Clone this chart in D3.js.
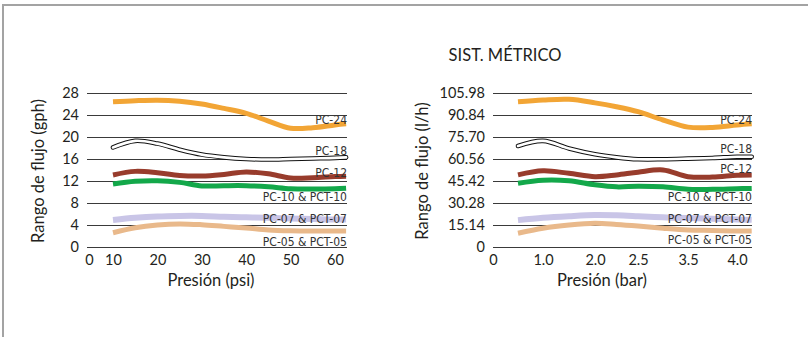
<!DOCTYPE html>
<html>
<head>
<meta charset="utf-8">
<script src="https://d3js.org/d3.v7.min.js"></script>
<style>
body { margin: 0; background: #fff; }
text { font-family: Lato, "Open Sans", sans-serif; fill: #231f20; }
.lbl { font-family: "Liberation Sans Narrow", "DejaVu Sans Condensed", sans-serif; font-size: 12px; fill: #333; }
</style>
</head>
<body>
<svg id="chart" width="808" height="337"></svg>
<script>
// series names, colours
var names = ["PC-24", "PC-18", "PC-12", "PC-10 & PCT-10", "PC-07 & PCT-07", "PC-05 & PCT-05"];
var colors = ["#f2a535", "black", "#983c2c", "#13a84a", "#c9c5e7", "#e9b98b"];

// left chart: psi vs gph
var psi = [10, 15, 20, 25, 30, 35, 40, 45, 50, 55, 60, 62.5];
var gph24 = [26.4, 26.6, 26.7, 26.5, 26.0, 25.2, 24.3, 22.9, 21.6, 21.7, 22.2, 22.4];
var gph18 = [18.1, 19.3, 18.8, 17.7, 16.8, 16.3, 16.0, 15.9, 16.0, 16.1, 16.2, 16.3];
var gph12 = [13.1, 13.75, 13.5, 13.0, 12.9, 13.2, 13.65, 13.3, 12.55, 12.6, 12.8, 12.85];
var gph10 = [11.45, 11.95, 12.05, 11.75, 11.1, 11.15, 11.15, 10.95, 10.6, 10.55, 10.6, 10.7];
var gph07 = [4.9, 5.3, 5.55, 5.65, 5.65, 5.5, 5.4, 5.3, 5.2, 5.1, 5.0, 5.0];
var gph05 = [2.6, 3.5, 4.0, 4.2, 4.05, 3.75, 3.45, 3.1, 2.95, 2.9, 2.9, 2.9];
var psiTicks = [0, 10, 20, 30, 40, 50, 60];
var gphTicks = [0, 4, 8, 12, 16, 20, 24, 28];
var gphLabelAt = [22.45, 16.7, 12.8, 8.3, 4.4, 0.2];

// right chart: bar vs l/h
var bar = [0.5, 1.0, 1.5, 2.0, 2.25, 2.5, 3.0, 3.5, 3.75, 4.0, 4.15];
var lh24 = [99.9, 101.1, 101.6, 99.2, 96.5, 93.1, 87.4, 82.5, 82.3, 84.0, 84.8];
var lh18 = [69.5, 73.0, 67.8, 63.8, 61.7, 60.4, 60.4, 60.8, 61.3, 62.1, 62.1];
var lh12 = [49.6, 52.4, 50.7, 48.4, 49.6, 51.5, 53.0, 48.4, 48.1, 49.4, 49.6];
var lh10 = [43.9, 46.0, 45.6, 42.8, 41.4, 41.8, 41.4, 39.7, 39.7, 40.1, 40.3];
var lh07 = [18.5, 20.1, 21.2, 22.0, 21.8, 21.2, 20.4, 19.9, 19.5, 18.9, 18.7];
var lh05 = [9.5, 12.9, 15.1, 16.3, 15.5, 14.4, 12.9, 11.7, 11.4, 11.0, 11.0];
var barTicks = [0, 1.0, 2.0, 2.5, 3.5, 4.0];
var lhTicks = [0, 15.14, 30.28, 45.42, 60.56, 75.70, 90.84, 105.98];
var lhLabelAt = [84.5, 65.0, 50.6, 32.0, 16.5, 2.0];

var svg = d3.select("#chart");

// frame
svg.append("path")
  .attr("d", "M3,337 L3,5 L808,5")
  .attr("fill", "none")
  .attr("stroke", "#a3a3a3")
  .attr("stroke-width", 2);

svg.append("text")
  .attr("x", 505).attr("y", 61)
  .attr("text-anchor", "middle")
  .attr("font-size", 16.5)
  .text("SIST. MÉTRICO");

var widths = [5, 4.6, 5, 5, 6, 5];

function drawPanel(p) {
  var g = svg.append("g");
  var y = d3.scaleLinear().domain([0, p.yMax]).range([247, 93]);
  var x = p.x;

  var yAxis = d3.axisLeft(y)
    .tickValues(p.yTicks)
    .tickSize(-(p.x1 - p.x0))
    .tickPadding(8)
    .tickFormat(p.yFmt);
  var ya = g.append("g").attr("transform", "translate(" + p.x0 + ",0)").call(yAxis);
  ya.select(".domain").remove();
  ya.selectAll("line").attr("stroke", "#3a3a3a").attr("stroke-width", 1.1);
  ya.selectAll("text").attr("font-size", 14.5).attr("fill", "#231f20").style("font-family", "Lato");

  var xAxis = d3.axisBottom(x).tickValues(p.xTicks).tickSize(0).tickPadding(0).tickFormat(p.xFmt);
  var xa = g.append("g").attr("transform", "translate(0,255)").call(xAxis);
  xa.select(".domain").remove();
  xa.selectAll("text").attr("font-size", 14.5).attr("fill", "#231f20").style("font-family", "Lato");

  var line = d3.line()
    .x(function (d) { return x(d[0]); })
    .y(function (d) { return y(d[1]); })
    .curve(d3.curveCatmullRom.alpha(0.5));

  // draw from bottom to top
  for (var i = p.series.length - 1; i >= 0; i--) {
    var pts = p.xs.map(function (v, j) { return [v, p.series[i][j]]; });
    if (i === 1) {
      g.append("path").attr("d", line(pts)).attr("fill", "none")
        .attr("stroke", "#111").attr("stroke-width", 4.6).attr("stroke-linecap", "round");
      g.append("path").attr("d", line(pts)).attr("fill", "none")
        .attr("stroke", "#fff").attr("stroke-width", 2.6).attr("stroke-linecap", "round");
    } else {
      g.append("path").attr("d", line(pts)).attr("fill", "none")
        .attr("stroke", colors[i]).attr("stroke-width", widths[i]);
    }
  }

  g.selectAll("text.lbl").data(names).enter().append("text")
    .attr("class", "lbl")
    .attr("x", p.x1)
    .attr("y", function (d, i) { return y(p.labelAt[i]); })
    .attr("text-anchor", "end")
    .text(function (d) { return d; });

  g.append("text")
    .attr("transform", "translate(" + p.yTitleX + ",171) rotate(-90)")
    .attr("text-anchor", "middle")
    .attr("font-size", 16.5)
    .text(p.yTitle);

  g.append("text")
    .attr("x", p.xTitleX).attr("y", 286)
    .attr("text-anchor", "middle")
    .attr("font-size", 16.5)
    .text(p.xTitle);
}

drawPanel({
  x: d3.scaleLinear().domain([0, 10, 60]).range([89, 113, 335]),
  x0: 87, x1: 347,
  xs: psi,
  series: [gph24, gph18, gph12, gph10, gph07, gph05],
  yMax: 28,
  yTicks: gphTicks,
  yFmt: d3.format("d"),
  xTicks: psiTicks,
  xFmt: d3.format("d"),
  labelAt: gphLabelAt,
  yTitle: "Rango de flujo (gph)", yTitleX: 44,
  xTitle: "Presión (psi)", xTitleX: 211
});

drawPanel({
  x: d3.scaleLinear().domain([0, 1, 2, 2.5, 3.5, 4]).range([493, 543, 595, 638, 688, 737]),
  x0: 493, x1: 752,
  xs: bar,
  series: [lh24, lh18, lh12, lh10, lh07, lh05],
  yMax: 105.98,
  yTicks: lhTicks,
  yFmt: function (d) { return d === 0 ? "0" : d3.format(".2f")(d); },
  xTicks: barTicks,
  xFmt: function (d) { return d === 0 ? "0" : d3.format(".1f")(d); },
  labelAt: lhLabelAt,
  yTitle: "Rango de flujo (l/h)", yTitleX: 428,
  xTitle: "Presión (bar)", xTitleX: 602
});
</script>
</body>
</html>
